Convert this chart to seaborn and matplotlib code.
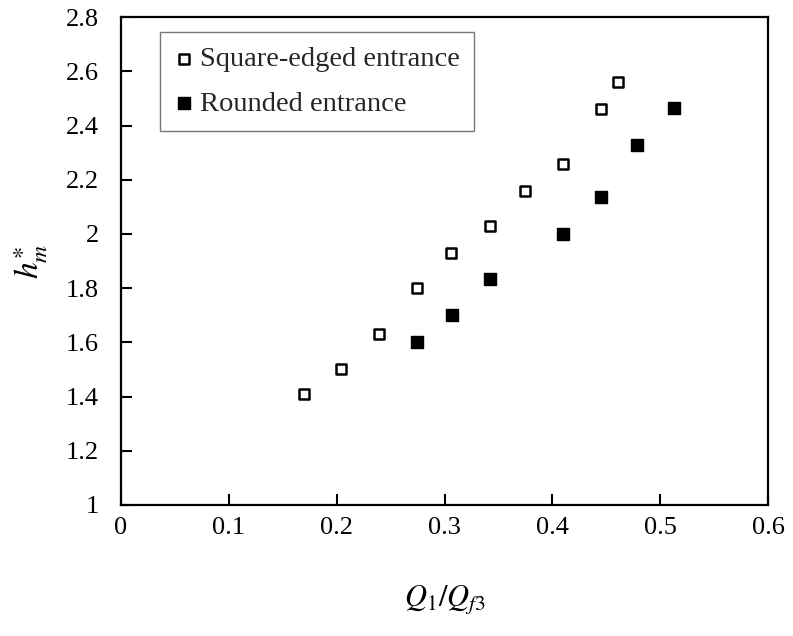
import matplotlib
matplotlib.use("Agg")
import matplotlib.pyplot as plt
import seaborn as sns
import pandas as pd

square_x = [0.170, 0.204, 0.239, 0.274, 0.306, 0.342, 0.375, 0.410, 0.445, 0.461]
square_y = [1.41, 1.50, 1.63, 1.80, 1.93, 2.03, 2.16, 2.26, 2.46, 2.56]
rounded_x = [0.274, 0.307, 0.342, 0.410, 0.445, 0.478, 0.513]
rounded_y = [1.60, 1.70, 1.835, 2.00, 2.135, 2.33, 2.465]
x_ticks = [0, 0.1, 0.2, 0.3, 0.4, 0.5, 0.6]
x_tick_labels = ["0", "0.1", "0.2", "0.3", "0.4", "0.5", "0.6"]
y_ticks = [1, 1.2, 1.4, 1.6, 1.8, 2, 2.2, 2.4, 2.6, 2.8]
y_tick_labels = ["1", "1.2", "1.4", "1.6", "1.8", "2", "2.2", "2.4", "2.6", "2.8"]
labels = ["Square-edged entrance", "Rounded entrance"]

sns.set_theme(style="white")
plt.rcParams["font.family"] = ["Liberation Serif", "DejaVu Serif"]
plt.rcParams["mathtext.fontset"] = "stix"

df_sq = pd.DataFrame({"x": square_x, "y": square_y})
df_rd = pd.DataFrame({"x": rounded_x, "y": rounded_y})

fig = plt.figure(figsize=(7.93, 6.36), dpi=100)
ax = fig.add_axes([0.1526, 0.206, 0.816, 0.767])

sns.scatterplot(data=df_sq, x="x", y="y", ax=ax, marker="s", s=62,
                facecolor="white", edgecolor="black", linewidth=1.8, label=labels[0])
sns.scatterplot(data=df_rd, x="x", y="y", ax=ax, marker="s", s=72,
                color="black", edgecolor="black", linewidth=1.0, label=labels[1])

ax.set_xlim(0, 0.6)
ax.set_ylim(1, 2.8)
ax.set_xticks(x_ticks)
ax.set_xticklabels(x_tick_labels)
ax.set_yticks(y_ticks)
ax.set_yticklabels(y_tick_labels)
ax.tick_params(axis="both", direction="in", length=8, width=1.5, labelsize=19,
               colors="black", bottom=True, left=True)
ax.tick_params(axis="x", pad=9)
ax.tick_params(axis="y", pad=16)
for sp in ax.spines.values():
    sp.set_visible(True)
    sp.set_color("black")
    sp.set_linewidth(1.6)

ax.set_xlabel(r"$Q_{\mathrm{1}}/Q_{f\mathrm{3}}$", fontsize=22, labelpad=31, color="black")
ax.set_ylabel(r"$h_m^{\ast}$", fontsize=24, labelpad=12, color="black")

leg = ax.legend(loc="upper left", bbox_to_anchor=(0.06, 0.969), fontsize=20.5,
                frameon=True, fancybox=False, edgecolor="#555555",
                handletextpad=0.2, borderpad=0.5, labelspacing=0.65,
                handlelength=0.7, borderaxespad=0)
leg.get_frame().set_linewidth(1.0)

fig.savefig("out.png", dpi=100)
